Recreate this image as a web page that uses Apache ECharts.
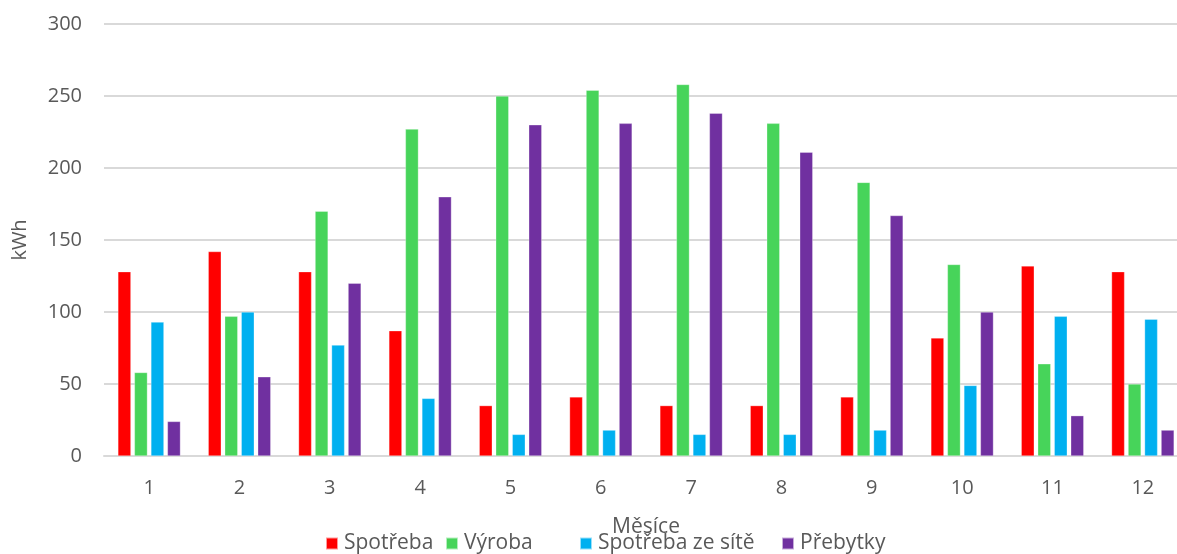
<!DOCTYPE html>
<html>
<head>
<meta charset="utf-8">
<script src="https://cdn.jsdelivr.net/npm/echarts@6/dist/echarts.min.js"></script>
<style>
  html, body { margin: 0; padding: 0; background: #fff; }
  #chart { width: 1177px; height: 554px; }
</style>
</head>
<body>
<div id="chart"></div>
<script>
// Monthly energy balance (kWh)
const months = ['1', '2', '3', '4', '5', '6', '7', '8', '9', '10', '11', '12'];
const spotreba = [128, 142, 128, 87, 35, 41, 35, 35, 41, 82, 132, 128];
const vyroba = [58, 97, 170, 227, 250, 254, 258, 231, 190, 133, 64, 50];
const spotrebaZeSite = [93, 100, 77, 40, 15, 18, 15, 15, 18, 49, 97, 95];
const prebytky = [24, 55, 120, 180, 230, 231, 238, 211, 167, 100, 28, 18];
const yTicks = { min: 0, max: 300, interval: 50 };

const seriesDefs = [
  { name: 'Spotřeba', data: spotreba, color: '#FF0000' },
  { name: 'Výroba', data: vyroba, color: '#47D45A' },
  { name: 'Spotřeba ze sítě', data: spotrebaZeSite, color: '#00B0F0' },
  { name: 'Přebytky', data: prebytky, color: '#7030A0' }
];
// left offsets of the legend entries
const legendLeft = [320, 440, 574, 776];

const FONT = '"Open Sans", sans-serif';
const TEXT = '#595959';

const chart = echarts.init(document.getElementById('chart'), null, { renderer: 'canvas' });
chart.setOption({
  animation: false,
  backgroundColor: '#ffffff',
  textStyle: { fontFamily: FONT, color: TEXT },
  grid: { left: 104, right: -11, top: 24, bottom: 98, containLabel: false, outerBoundsMode: 'none' },
  legend: seriesDefs.map((s, i) => ({
    left: legendLeft[i],
    top: 528,
    itemWidth: 12,
    itemHeight: 12,
    icon: 'rect',
    textStyle: { fontFamily: FONT, fontSize: 21, color: TEXT, padding: [0, 0, 0, 1] },
    data: [s.name]
  })),
  xAxis: {
    type: 'category',
    data: months,
    name: 'Měsíce',
    nameLocation: 'middle',
    nameGap: 61,
    nameTextStyle: { fontFamily: FONT, fontSize: 21, color: TEXT },
    axisLine: { lineStyle: { color: '#d9d9d9', width: 2 } },
    axisTick: { show: false },
    axisLabel: { fontFamily: FONT, fontSize: 20, color: TEXT, margin: 22 }
  },
  yAxis: {
    type: 'value',
    min: yTicks.min,
    max: yTicks.max,
    interval: yTicks.interval,
    name: 'kWh',
    nameLocation: 'middle',
    nameRotate: 90,
    nameGap: 74,
    nameTextStyle: { fontFamily: FONT, fontSize: 20, color: TEXT },
    axisLine: { show: false },
    axisTick: { show: false },
    axisLabel: { fontFamily: FONT, fontSize: 20, color: TEXT, margin: 22 },
    splitLine: { lineStyle: { color: '#d9d9d9', width: 2 } }
  },
  series: seriesDefs.map(s => ({
    name: s.name,
    type: 'bar',
    data: s.data,
    barWidth: 13,
    barGap: '27%',
    itemStyle: { color: s.color, borderColor: 'rgba(255,255,255,0.6)', borderWidth: 0.5 }
  }))
});
</script>
</body>
</html>
